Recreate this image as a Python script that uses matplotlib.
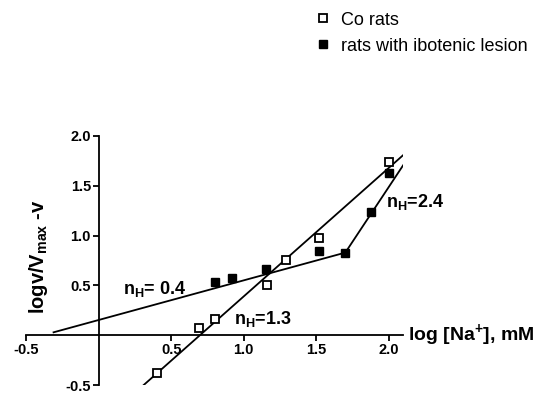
import matplotlib
matplotlib.use("Agg")
import matplotlib.pyplot as plt

plt.rcParams["font.family"] = ["Liberation Sans", "DejaVu Sans"]
# bold sans for the math parts (subscripts / superscripts)
plt.rcParams["mathtext.fontset"] = "custom"
plt.rcParams["mathtext.rm"] = "Liberation Sans:bold"
plt.rcParams["mathtext.bf"] = "Liberation Sans:bold"
plt.rcParams["mathtext.it"] = "Liberation Sans:bold"
plt.rcParams["mathtext.default"] = "rm"

# Co rats (open squares)
co_x = [0.40, 0.69, 0.80, 1.16, 1.29, 1.52, 2.00]
co_y = [-0.38, 0.07, 0.16, 0.50, 0.76, 0.98, 1.74]
# rats with ibotenic lesion (filled squares)
les_x = [0.80, 0.92, 1.15, 1.52, 1.70, 1.88, 2.00]
les_y = [0.53, 0.57, 0.67, 0.85, 0.83, 1.24, 1.63]

# fitted lines (end points)
co_fit_x = [0.31, 2.10]
co_fit_y = [-0.50, 1.81]
les_fit1_x = [-0.31, 1.70]
les_fit1_y = [0.03, 0.83]
les_fit2_x = [1.70, 2.10]
les_fit2_y = [0.83, 1.71]

xticks = [-0.5, 0.5, 1.0, 1.5, 2.0]
yticks = [-0.5, 0.5, 1.0, 1.5, 2.0]

fig = plt.figure(figsize=(5.47, 3.93), dpi=100)
ax = fig.add_axes([0.0475, 0.02, 0.690, 0.634])

lw = 1.3
ax.plot(co_fit_x, co_fit_y, color="black", lw=lw)
ax.plot(les_fit1_x, les_fit1_y, color="black", lw=lw)
ax.plot(les_fit2_x, les_fit2_y, color="black", lw=lw)

h_co, = ax.plot(co_x, co_y, "s", ms=6, mfc="white", mec="black", mew=1.3,
                ls="none", label="Co rats", zorder=3)
h_les, = ax.plot(les_x, les_y, "s", ms=6, mfc="black", mec="black", mew=1.0,
                 ls="none", label="rats with ibotenic lesion", zorder=3)

ax.set_xlim(-0.5, 2.1)
ax.set_ylim(-0.5, 2.0)
for s in ["top", "right"]:
    ax.spines[s].set_visible(False)
ax.spines["left"].set_position(("data", 0))
ax.spines["bottom"].set_position(("data", 0))
ax.spines["left"].set_linewidth(1.3)
ax.spines["bottom"].set_linewidth(1.3)
ax.spines["left"].set_bounds(-0.5, 2.0)
ax.spines["bottom"].set_bounds(-0.5, 2.1)
ax.set_xticks(xticks)
ax.set_yticks(yticks)
ax.set_xticklabels([f"{v:.1f}" for v in xticks])
ax.set_yticklabels([f"{v:.1f}" for v in yticks])
ax.tick_params(direction="out", length=4, width=1.3, pad=1.5, labelsize=10.5)
for lab in ax.get_xticklabels() + ax.get_yticklabels():
    lab.set_fontweight("bold")
ax.patch.set_visible(False)

ax.text(2.13, 0.0, "log [Na$^{+}$], mM", fontsize=14, fontweight="bold",
        ha="left", va="center")
fig.text(0.07, 0.346, "logv/V$_{max}$ -v", fontsize=14.5, fontweight="bold",
         rotation=90, ha="center", va="center")

ax.text(0.17, 0.46, "n$_{H}$= 0.4", fontsize=13, fontweight="bold",
        ha="left", va="center")
ax.text(0.93, 0.16, "n$_{H}$=1.3", fontsize=13, fontweight="bold",
        ha="left", va="center")
ax.text(1.98, 1.34, "n$_{H}$=2.4", fontsize=13, fontweight="bold",
        ha="left", va="center")

fig.legend([h_co, h_les], ["Co rats", "rats with ibotenic lesion"],
           loc="upper left", bbox_to_anchor=(0.556, 1.0), frameon=False,
           fontsize=13, handlelength=0.8, handletextpad=0.6,
           labelspacing=0.5, borderaxespad=0.25)

fig.savefig("out.png", dpi=100)
